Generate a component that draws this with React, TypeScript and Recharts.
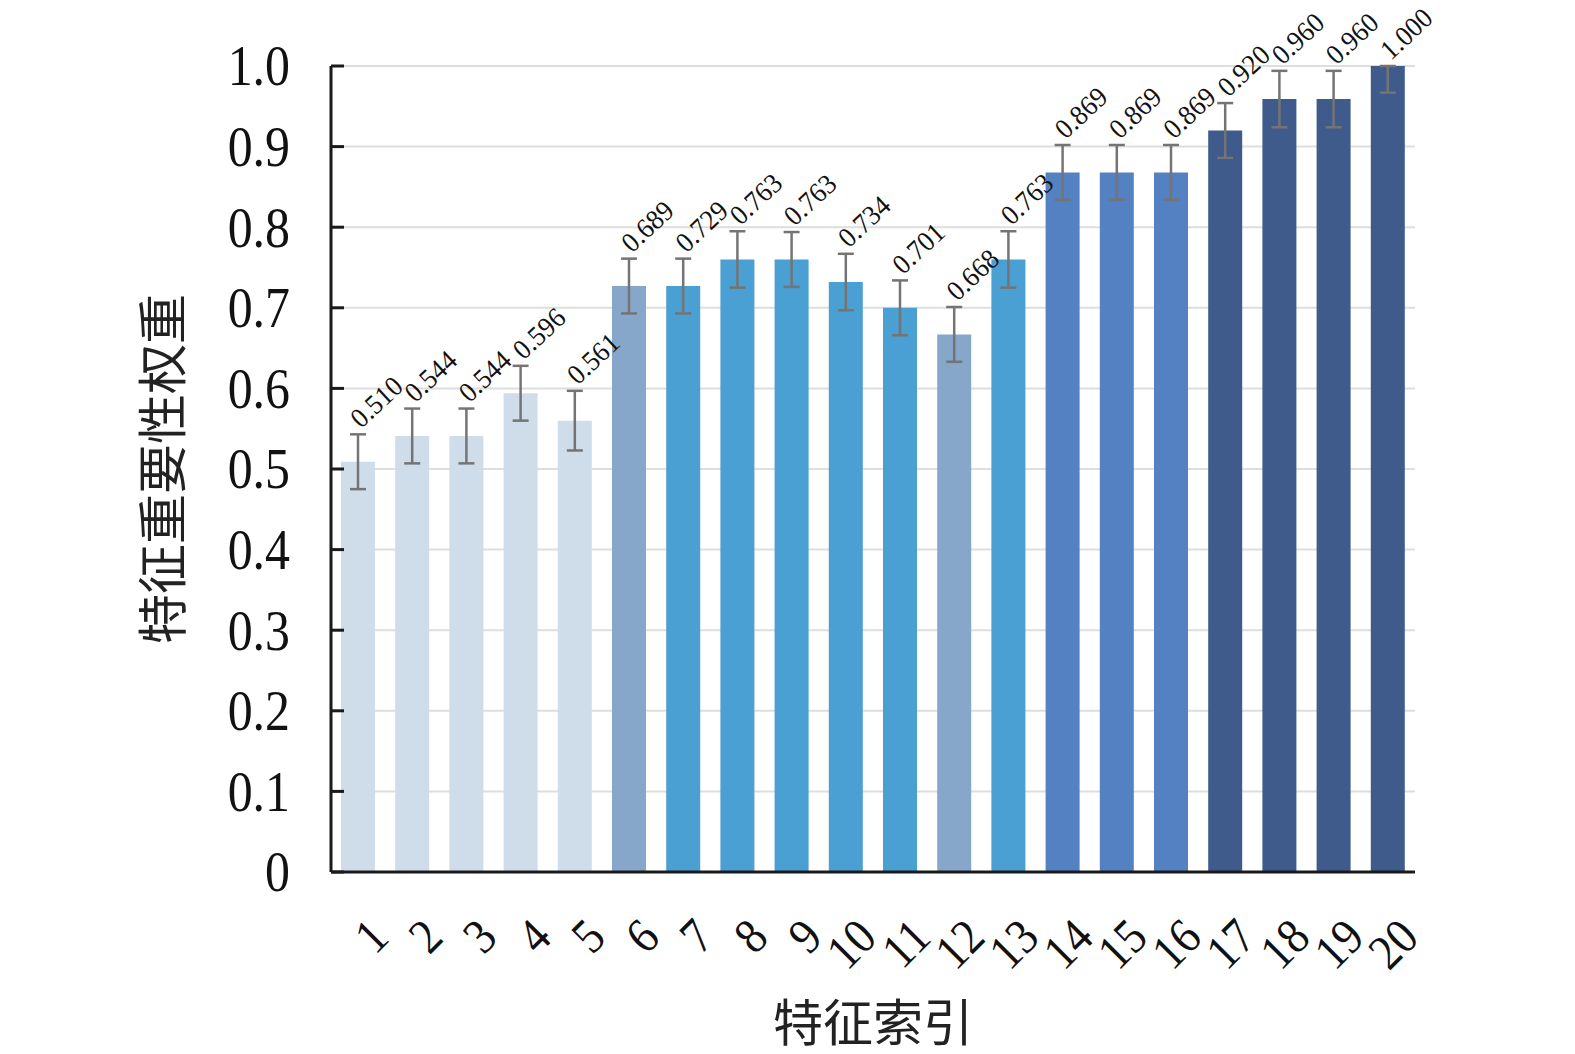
import React from 'react';
import { BarChart, Bar, XAxis, YAxis, CartesianGrid, ErrorBar, Cell, LabelList, Label } from 'recharts';

const featureIndex = ['1', '2', '3', '4', '5', '6', '7', '8', '9', '10', '11', '12', '13', '14', '15', '16', '17', '18', '19', '20'];
const weights = [0.509, 0.541, 0.541, 0.594, 0.560, 0.727, 0.727, 0.760, 0.760, 0.732, 0.700, 0.667, 0.760, 0.868, 0.868, 0.868, 0.920, 0.959, 0.959, 1.0];
const weightLabels = ['0.510', '0.544', '0.544', '0.596', '0.561', '0.689', '0.729', '0.763', '0.763', '0.734', '0.701', '0.668', '0.763', '0.869', '0.869', '0.869', '0.920', '0.960', '0.960', '1.000'];
const errLow = [0.034, 0.034, 0.034, 0.034, 0.037, 0.034, 0.034, 0.035, 0.034, 0.035, 0.034, 0.034, 0.035, 0.034, 0.034, 0.034, 0.034, 0.035, 0.035, 0.033];
const errHigh = [0.034, 0.034, 0.034, 0.034, 0.037, 0.034, 0.034, 0.035, 0.034, 0.035, 0.034, 0.034, 0.035, 0.034, 0.034, 0.034, 0.034, 0.035, 0.035, 0];
const groups = ['a', 'a', 'a', 'a', 'a', 'b', 'c', 'c', 'c', 'c', 'c', 'b', 'c', 'd', 'd', 'd', 'e', 'e', 'e', 'e'];
const yTicks = [0, 0.1, 0.2, 0.3, 0.4, 0.5, 0.6, 0.7, 0.8, 0.9, 1.0];

const groupColors: Record<string, string> = {
  a: '#cfdcea',
  b: '#86a6ca',
  c: '#4a9fd3',
  d: '#5381c1',
  e: '#3e5b8c',
};

const data = featureIndex.map((name, i) => ({
  name,
  weight: weights[i],
  label: weightLabels[i],
  err: [errLow[i], errHigh[i]],
}));

const SERIF = '"Liberation Serif", "Times New Roman", serif';
const CJK = '"Noto Sans CJK SC", sans-serif';

function YTick({ x, y, payload }: any) {
  const v = payload.value;
  return (
    <g>
      <line x1={x} x2={x + 13} y1={y} y2={y} stroke="#1a1a1a" strokeWidth={3} />
      <text
        transform={`translate(${x - 41} ${y}) scale(0.86 1)`}
        textAnchor="end"
        dominantBaseline="central"
        fontFamily={SERIF}
        fontSize={58}
        fill="#111"
      >
        {v === 0 ? '0' : v.toFixed(1)}
      </text>
    </g>
  );
}

function XTick({ x, y, payload }: any) {
  const tx = x + 21;
  const ty = y + 56;
  return (
    <text
      transform={`translate(${tx} ${ty}) rotate(-45) scale(0.9 1)`}
      textAnchor="end"
      dominantBaseline="central"
      fontFamily={SERIF}
      fontSize={50}
      fill="#111"
    >
      {payload.value}
    </text>
  );
}

function ValueLabel(props: any) {
  const { x, y, width, height, value, index } = props;
  const i = typeof index === 'number' ? index : weightLabels.indexOf(value);
  const pxPerUnit = height / weights[i];
  const tx = x + width / 2 + 3;
  const ty = y - errHigh[i] * pxPerUnit - 5;
  return (
    <text
      transform={`translate(${tx} ${ty}) rotate(-43) scale(0.95 1)`}
      fontFamily={SERIF}
      fontSize={28}
      fill="#111"
    >
      {value}
    </text>
  );
}

export default function App() {
  return (
    <div style={{ width: 1575, height: 1054, background: '#fff' }}>
      <style>{'html,body{margin:0;padding:0;overflow:hidden;}'}</style>
      <BarChart width={1575} height={1054} data={data} margin={{ top: 66, right: 160, bottom: 0, left: 0 }} barCategoryGap={0}>
        <CartesianGrid horizontal vertical={false} stroke="#dedede" strokeWidth={2} />
        <XAxis
          dataKey="name"
          height={182}
          tickSize={0}
          tickMargin={0}
          tickLine={false}
          axisLine={{ stroke: '#1a1a1a', strokeWidth: 3 }}
          tick={<XTick />}
          interval={0}
        >
          <Label value="特征索引" position="insideBottom" offset={13} fontFamily={CJK} fontSize={50} fill="#222" />
        </XAxis>
        <YAxis
          width={331}
          domain={[0, 1]}
          ticks={yTicks}
          allowDataOverflow
          tickSize={0}
          tickMargin={0}
          tickLine={false}
          axisLine={{ stroke: '#1a1a1a', strokeWidth: 3 }}
          tick={<YTick />}
        >
          <Label value="特征重要性权重" angle={-90} position="center" dx={-2} fontFamily={CJK} fontSize={50} fill="#222" />
        </YAxis>
        <Bar dataKey="weight" barSize={34} isAnimationActive={false}>
          {data.map((d, i) => (
            <Cell key={d.name} fill={groupColors[groups[i]]} />
          ))}
          <ErrorBar dataKey="err" width={8} stroke="#747474" strokeWidth={2.5} direction="y" />
          <LabelList dataKey="label" content={<ValueLabel />} />
        </Bar>
      </BarChart>
    </div>
  );
}
